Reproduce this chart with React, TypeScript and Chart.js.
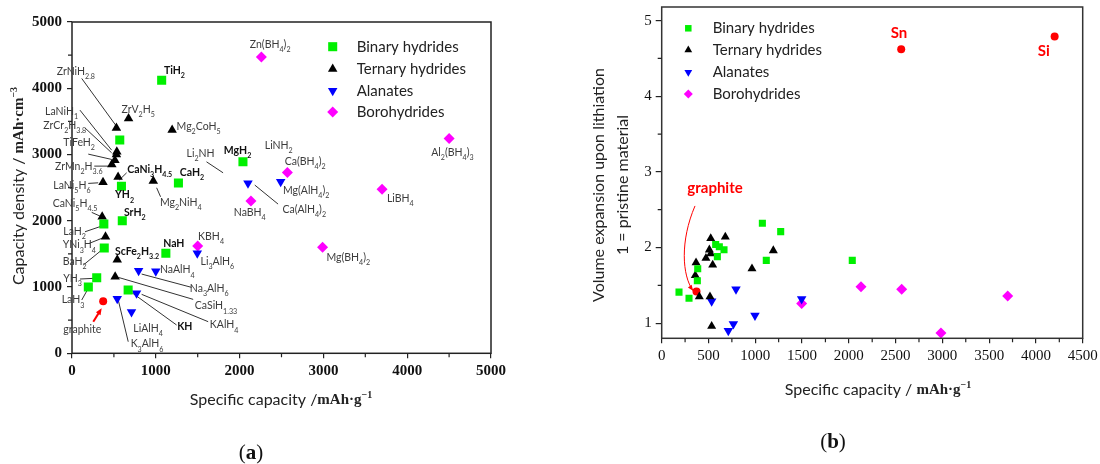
import React, { useEffect, useRef } from 'react';
import { Chart, registerables } from 'chart.js';
Chart.register(...registerables);

const SANS = "Lato, 'Open Sans', 'DejaVu Sans', sans-serif";
const SERIF = "'Liberation Serif', 'Times New Roman', serif";
const GREEN = '#00f000';
const BLACK = '#000000';
const BLUE = '#0000ff';
const MAGENTA = '#ff00ff';
const RED = '#ff0000';

const seriesNames = ['Binary hydrides', 'Ternary hydrides', 'Alanates', 'Borohydrides'];

// ---------- Panel (a): specific capacity (mAh/g) vs capacity density (mAh/cm3) ----------
// TiH2, ZrH2, MgH2, CaH2, YH2, SrH2, LaH2, BaH2, NaH, YH3, LaH3, KH
const binaryCapA = [1070, 570, 2040, 1270, 590, 600, 380, 385, 1120, 295, 195, 670];
const binaryDenA = [4120, 3220, 2890, 2570, 2520, 2000, 1950, 1590, 1510, 1140, 1000, 955];
// ZrNiH2.8, ZrV2H5, Mg2CoH5, LaNiH, ZrCr2H3.8, TiFeH2, ZrMn2H3.6, CaNi3H4.5, LaNi5H6, Mg2NiH4, CaNi5H4.5, YNi3H4, ScFe2H3.2, CaSiH1.33
const ternaryCapA = [530, 675, 1195, 535, 530, 512, 475, 550, 370, 970, 360, 400, 540, 515];
const ternaryDenA = [3400, 3545, 3370, 3040, 3000, 2915, 2850, 2660, 2580, 2600, 2060, 1760, 1410, 1155];
// Ca(AlH4)2, Mg(AlH4)2, Li3AlH6, NaAlH4, Na3AlH6, KAlH4, K3AlH6, LiAlH4
const alanateCapA = [2100, 2490, 1495, 1000, 795, 770, 540, 710];
const alanateDenA = [2565, 2590, 1510, 1240, 1245, 905, 825, 625];
// Zn(BH4)2, Al2(BH4)3, Ca(BH4)2, LiBH4, NaBH4, KBH4, Mg(BH4)2
const boroCapA = [2260, 4500, 2570, 3700, 2135, 1500, 2990];
const boroDenA = [4470, 3240, 2730, 2475, 2300, 1620, 1600];
// graphite
const refCapA = [372];
const refDenA = [785];

const ticksA = [0, 1000, 2000, 3000, 4000, 5000];
const minorTicksA = [500, 1500, 2500, 3500, 4500];

// annotation labels (text, x, y in data units, bold)
const labelsA: [string, number, number, number][] = [
  ['ZrNiH_{2.8}', -182, 4258, 0],
  ['TiH_2', 1097, 4273, 1],
  ['ZrV_2H_5', 592, 3685, 0],
  ['LaNiH_1', -322, 3655, 0],
  ['ZrCr_2H_{3.8}', -342, 3443, 0],
  ['TiFeH_2', -104, 3177, 0],
  ['ZrMn_2H_{3.6}', -203, 2814, 0],
  ['Mg_2CoH_5', 1248, 3428, 0],
  ['Li_2NH', 1367, 3017, 0],
  ['MgH_2', 1812, 3056, 1],
  ['CaNi_3H_{4.5}', 659, 2775, 1],
  ['CaH_2', 1287, 2724, 1],
  ['LaNi_5H_6', -223, 2528, 0],
  ['YH_2', 513, 2388, 1],
  ['Mg_2NiH_4', 1049, 2272, 0],
  ['NaBH_4', 1931, 2127, 0],
  ['CaNi_5H_{4.5}', -230, 2262, 0],
  ['SrH_2', 620, 2127, 1],
  ['Zn(BH_4)_2', 2122, 4665, 0],
  ['LiNH_2', 2300, 3131, 0],
  ['Ca(BH_4)_2', 2539, 2900, 0],
  ['Mg(AlH_4)_2', 2518, 2452, 0],
  ['Ca(AlH_4)_2', 2511, 2172, 0],
  ['LiBH_4', 3758, 2338, 0],
  ['Al_2(BH_4)_3', 4287, 3026, 0],
  ['LaH_2', -104, 1834, 0],
  ['YNi_3H_4', -111, 1633, 0],
  ['BaH_2', -111, 1382, 0],
  ['ScFe_2H_{3.2}', 513, 1532, 1],
  ['NaH', 1088, 1659, 1],
  ['KBH_4', 1505, 1759, 0],
  ['Li_3AlH_6', 1534, 1382, 0],
  ['NaAlH_4', 1049, 1256, 0],
  ['Na_3AlH_6', 1406, 980, 0],
  ['YH_3', -104, 1131, 0],
  ['LaH_3', -123, 804, 0],
  ['CaSiH_{1.33}', 1466, 713, 0],
  ['KAlH_4', 1645, 427, 0],
  ['KH', 1255, 401, 1],
  ['LiAlH_4', 731, 377, 0],
  ['K_3AlH_6', 700, 140, 0],
  ['graphite', -104, 351, 0],
  ['Mg(BH_4)_2', 3036, 1448, 0],
];

// leader lines (x1, y1, x2, y2 in data units)
const leadersA: [number, number, number, number][] = [
  [116, 4148, 521, 3443],
  [95, 3670, 473, 3066],
  [155, 3401, 473, 3026],
  [194, 3006, 473, 2926],
  [266, 2825, 433, 2825],
  [1605, 2890, 1803, 2724],
  [652, 2724, 564, 2615],
  [194, 2564, 313, 2573],
  [1010, 2498, 1057, 2362],
  [235, 2127, 334, 2071],
  [2181, 2539, 2459, 2252],
  [155, 1834, 354, 1920],
  [206, 1659, 373, 1744],
  [135, 1332, 354, 1558],
  [831, 1196, 1427, 995],
  [95, 1121, 254, 1131],
  [116, 804, 194, 980],
  [552, 1146, 1446, 814],
  [831, 890, 1625, 477],
  [671, 955, 1248, 427],
  [552, 804, 671, 175],
];
const graphiteArrowA = [254, 477, 354, 679];

// ---------- Panel (b): specific capacity vs volume expansion ----------
const binaryCapB = [185, 292, 381, 385, 577, 616, 666, 595, 1076, 1272, 1118, 2037];
const binaryVolB = [1.41, 1.33, 1.56, 1.72, 2.04, 2.01, 1.97, 1.88, 2.32, 2.21, 1.83, 1.83];
const ternaryCapB = [524, 680, 509, 524, 473, 545, 367, 359, 402, 516, 534, 965, 1193];
const ternaryVolB = [2.12, 2.14, 1.97, 1.92, 1.86, 1.77, 1.8, 1.63, 1.35, 1.35, 0.96, 1.72, 1.96];
const alanateCapB = [794, 534, 997, 766, 712, 1496];
const alanateVolB = [1.45, 1.29, 1.1, 0.99, 0.9, 1.32];
const boroCapB = [1496, 2130, 2565, 2985, 3698];
const boroVolB = [1.26, 1.48, 1.45, 0.87, 1.36];
const refNamesB = ['graphite', 'Sn', 'Si'];
const refCapB = [372, 2560, 4200];
const refVolB = [1.42, 4.62, 4.79];

const xTicksB = [0, 500, 1000, 1500, 2000, 2500, 3000, 3500, 4000, 4500];
const xMinorB = [250, 750, 1250, 1750, 2250, 2750, 3250, 3750, 4250];
const yTicksB = [1, 2, 3, 4, 5];
const yMinorB = [1.5, 2.5, 3.5, 4.5];

// red labels of panel (b): text, x, y (data units)
const redLabelsB: [string, number, number][] = [
  ['Sn', 2536, 4.84],
  ['Si', 4085, 4.6],
  ['graphite', 570, 2.78],
];
// curved arrow: start, control1, control2, end
const graphiteCurveB = [356, 2.55, 196, 2.09, 217, 1.63, 335, 1.43];

// ---------- helpers ----------
type Seg = { t: string; m: number };
function parseRich(s: string): Seg[] {
  const out: Seg[] = [];
  let buf = '';
  let i = 0;
  while (i < s.length) {
    const c = s[i];
    if (c === '_' || c === '^') {
      if (buf) { out.push({ t: buf, m: 0 }); buf = ''; }
      const m = c === '_' ? 1 : 2;
      if (s[i + 1] === '{') {
        const j = s.indexOf('}', i + 2);
        out.push({ t: s.slice(i + 2, j), m });
        i = j + 1;
      } else {
        out.push({ t: s[i + 1], m });
        i += 2;
      }
    } else {
      buf += c;
      i++;
    }
  }
  if (buf) out.push({ t: buf, m: 0 });
  return out;
}

function drawRich(ctx: CanvasRenderingContext2D, s: string, x: number, y: number, size: number, bold: boolean, color: string, align: string) {
  const segs = parseRich(s);
  const font = (m: number) => `${bold ? 'bold ' : ''}${m ? size * 0.68 : size}px ${SANS}`;
  let w = 0;
  segs.forEach((g) => { ctx.font = font(g.m); w += ctx.measureText(g.t).width; });
  let cx = align === 'center' ? x - w / 2 : x;
  ctx.fillStyle = color;
  ctx.textBaseline = 'middle';
  ctx.textAlign = 'left';
  segs.forEach((g) => {
    ctx.font = font(g.m);
    const dy = g.m === 1 ? size * 0.5 : g.m === 2 ? -size * 0.4 : 0;
    ctx.fillText(g.t, cx, y + dy);
    cx += ctx.measureText(g.t).width;
  });
}

type TSeg = { t: string; font: string; dy: number };
function drawSegs(ctx: CanvasRenderingContext2D, segs: TSeg[], x: number, y: number) {
  let w = 0;
  segs.forEach((g) => { ctx.font = g.font; w += ctx.measureText(g.t).width; });
  let cx = x - w / 2;
  ctx.textBaseline = 'middle';
  ctx.textAlign = 'left';
  segs.forEach((g) => {
    ctx.font = g.font;
    ctx.fillText(g.t, cx, y + g.dy);
    cx += ctx.measureText(g.t).width;
  });
}

function drawMarker(ctx: CanvasRenderingContext2D, style: string, x: number, y: number, r: number, color: string, rot: number) {
  ctx.beginPath();
  ctx.fillStyle = color;
  if (style === 'rect') {
    const h = r * Math.SQRT1_2;
    ctx.rect(x - h, y - h, 2 * h, 2 * h);
  } else if (style === 'rectRot') {
    ctx.moveTo(x, y - r); ctx.lineTo(x + r, y); ctx.lineTo(x, y + r); ctx.lineTo(x - r, y); ctx.closePath();
  } else if (style === 'triangle') {
    const s = rot ? -1 : 1;
    ctx.moveTo(x, y - s * r);
    ctx.lineTo(x + r * 0.866, y + s * r * 0.5);
    ctx.lineTo(x - r * 0.866, y + s * r * 0.5);
    ctx.closePath();
  } else {
    ctx.arc(x, y, r, 0, Math.PI * 2);
  }
  ctx.fill();
}

function arrowHead(ctx: CanvasRenderingContext2D, fx: number, fy: number, tx: number, ty: number, len: number, color: string) {
  const a = Math.atan2(ty - fy, tx - fx);
  ctx.beginPath();
  ctx.fillStyle = color;
  ctx.moveTo(tx, ty);
  ctx.lineTo(tx - len * Math.cos(a - 0.4), ty - len * Math.sin(a - 0.4));
  ctx.lineTo(tx - len * Math.cos(a + 0.4), ty - len * Math.sin(a + 0.4));
  ctx.closePath();
  ctx.fill();
}

function ds(label: string, xs: number[], ys: number[], style: string, color: string, r: number, rot = 0) {
  return {
    label,
    data: xs.map((x, i) => ({ x, y: ys[i] })),
    pointStyle: style,
    pointRadius: r,
    pointHoverRadius: r,
    pointRotation: rot,
    backgroundColor: color,
    borderColor: color,
    borderWidth: 0,
    pointBorderWidth: 0,
    showLine: false,
  };
}

const styles = [
  { style: 'rect', color: GREEN, rot: 0 },
  { style: 'triangle', color: BLACK, rot: 0 },
  { style: 'triangle', color: BLUE, rot: 180 },
  { style: 'rectRot', color: MAGENTA, rot: 0 },
];

function fitFix(size: number, horizontal: boolean) {
  return (s: any) => {
    if (horizontal) s.height = size; else s.width = size;
    s.paddingLeft = 0; s.paddingRight = 0; s.paddingTop = 0; s.paddingBottom = 0;
  };
}

function minorTicks(ctx: CanvasRenderingContext2D, chart: any, xs: number[], ys: number[], len: number) {
  const { chartArea: ca, scales } = chart;
  ctx.strokeStyle = '#222';
  ctx.lineWidth = 1.2;
  ctx.beginPath();
  xs.forEach((v) => { const px = scales.x.getPixelForValue(v); ctx.moveTo(px, ca.bottom); ctx.lineTo(px, ca.bottom + len); });
  ys.forEach((v) => { const py = scales.y.getPixelForValue(v); ctx.moveTo(ca.left, py); ctx.lineTo(ca.left - len, py); });
  ctx.stroke();
}

const plugA = {
  id: 'plugA',
  beforeDatasetsDraw(chart: any) {
    const { ctx, scales: { x, y } } = chart;
    ctx.save();
    ctx.strokeStyle = '#333';
    ctx.lineWidth = 1;
    ctx.beginPath();
    leadersA.forEach(([x1, y1, x2, y2]) => {
      ctx.moveTo(x.getPixelForValue(x1), y.getPixelForValue(y1));
      ctx.lineTo(x.getPixelForValue(x2), y.getPixelForValue(y2));
    });
    ctx.stroke();
    const [ax1, ay1, ax2, ay2] = graphiteArrowA;
    const p1x = x.getPixelForValue(ax1), p1y = y.getPixelForValue(ay1);
    const p2x = x.getPixelForValue(ax2), p2y = y.getPixelForValue(ay2);
    ctx.strokeStyle = RED;
    ctx.lineWidth = 2;
    ctx.beginPath();
    ctx.moveTo(p1x, p1y);
    ctx.lineTo(p1x + (p2x - p1x) * 0.75, p1y + (p2y - p1y) * 0.75);
    ctx.stroke();
    arrowHead(ctx, p1x, p1y, p2x, p2y, 7, RED);
    ctx.restore();
  },
  afterDatasetsDraw(chart: any) {
    const { ctx, chartArea: ca, scales: { x, y } } = chart;
    ctx.save();
    ctx.strokeStyle = '#222';
    ctx.lineWidth = 1.5;
    ctx.strokeRect(ca.left, ca.top, ca.right - ca.left, ca.bottom - ca.top);
    minorTicks(ctx, chart, minorTicksA, minorTicksA, 4);
    labelsA.forEach(([t, lx, ly, b]) => {
      drawRich(ctx, t, x.getPixelForValue(lx), y.getPixelForValue(ly), 10.5, !!b, b ? '#111' : '#3c3c3c', 'left');
    });
    // legend
    const rows = [46.7, 69, 90.7, 112];
    chart.data.datasets.slice(0, 4).forEach((d: any, i: number) => {
      const st = styles[i];
      drawMarker(ctx, st.style, 332.7, rows[i], st.style === 'rect' ? 6.4 : 5.5, st.color, st.rot);
      ctx.fillStyle = '#222';
      ctx.font = `15px ${SANS}`;
      ctx.textAlign = 'left';
      ctx.textBaseline = 'middle';
      ctx.fillText(d.label, 356.7, rows[i]);
    });
    // axis titles
    ctx.fillStyle = '#222';
    drawSegs(ctx, [
      { t: 'Specific capacity /', font: `16px ${SANS}`, dy: 0 },
      { t: 'mAh·g', font: `bold 15px ${SERIF}`, dy: 0 },
      { t: '−1', font: `bold 10px ${SERIF}`, dy: -5 },
    ], 281, 400);
    ctx.translate(19, 186);
    ctx.rotate(-Math.PI / 2);
    drawSegs(ctx, [
      { t: 'Capacity density / ', font: `16px ${SANS}`, dy: 0 },
      { t: 'mAh·cm', font: `bold 15px ${SERIF}`, dy: 0 },
      { t: '−3', font: `bold 10px ${SERIF}`, dy: -5 },
    ], 0, 0);
    ctx.restore();
  },
};

const plugB = {
  id: 'plugB',
  afterDatasetsDraw(chart: any) {
    const { ctx, chartArea: ca, scales: { x, y } } = chart;
    ctx.save();
    ctx.strokeStyle = '#333';
    ctx.lineWidth = 1.5;
    ctx.strokeRect(ca.left, ca.top, ca.right - ca.left, ca.bottom - ca.top);
    minorTicks(ctx, chart, xMinorB, yMinorB, 4);
    // red labels
    redLabelsB.forEach(([t, lx, ly]) => {
      ctx.fillStyle = RED;
      ctx.font = `bold 15px ${SANS}`;
      ctx.textAlign = 'center';
      ctx.textBaseline = 'middle';
      ctx.fillText(t, x.getPixelForValue(lx), y.getPixelForValue(ly));
    });
    // curved arrow to graphite
    const c = graphiteCurveB;
    const P = (i: number) => [x.getPixelForValue(c[i]), y.getPixelForValue(c[i + 1])];
    const [sx, sy] = P(0), [c1x, c1y] = P(2), [c2x, c2y] = P(4), [ex, ey] = P(6);
    ctx.strokeStyle = RED;
    ctx.lineWidth = 1;
    ctx.beginPath();
    ctx.moveTo(sx, sy);
    ctx.bezierCurveTo(c1x, c1y, c2x, c2y, ex, ey);
    ctx.stroke();
    arrowHead(ctx, c2x, c2y, ex, ey, 6, RED);
    // legend
    const rows = [28.3, 50, 72.3, 94];
    chart.data.datasets.slice(0, 4).forEach((d: any, i: number) => {
      const st = styles[i];
      drawMarker(ctx, st.style, 138.3, rows[i], st.style === 'rect' ? 4.6 : 4.5, st.color, st.rot);
      ctx.fillStyle = '#222';
      ctx.font = `15px ${SANS}`;
      ctx.textAlign = 'left';
      ctx.textBaseline = 'middle';
      ctx.fillText(d.label, 162.7, rows[i]);
    });
    // axis titles
    ctx.fillStyle = '#222';
    drawSegs(ctx, [
      { t: 'Specific capacity / ', font: `16px ${SANS}`, dy: 0 },
      { t: 'mAh·g', font: `bold 15px ${SERIF}`, dy: 0 },
      { t: '−1', font: `bold 10px ${SERIF}`, dy: -5 },
    ], 328, 390);
    ctx.save();
    ctx.translate(49, 185);
    ctx.rotate(-Math.PI / 2);
    drawSegs(ctx, [{ t: 'Volume expansion upon lithiation', font: `16px ${SANS}`, dy: 0 }], 0, 0);
    ctx.restore();
    ctx.save();
    ctx.translate(73, 185);
    ctx.rotate(-Math.PI / 2);
    drawSegs(ctx, [{ t: '1 = pristine material', font: `16px ${SANS}`, dy: 0 }], 0, 0);
    ctx.restore();
    ctx.restore();
  },
};

function scaleOpts(min: number, max: number, ticks: number[], horizontal: boolean, size: number, bold: boolean, tickLen: number, pad: number) {
  return {
    type: 'linear',
    min,
    max,
    afterBuildTicks: (s: any) => { s.ticks = ticks.map((v) => ({ value: v })); },
    afterFit: fitFix(size, horizontal),
    grid: { display: true, drawOnChartArea: false, drawTicks: true, tickLength: tickLen, color: '#222', lineWidth: 1.2 },
    border: { display: false },
    ticks: {
      autoSkip: false,
      maxRotation: 0,
      padding: pad,
      color: '#111',
      callback: (v: number) => String(v),
      font: { family: SERIF, size: 15, weight: bold ? 'bold' : 'normal' },
    },
  };
}

export default function App() {
  const refA = useRef<HTMLCanvasElement>(null);
  const refB = useRef<HTMLCanvasElement>(null);
  useEffect(() => {
    document.body.style.margin = '0';
    const chartA = new Chart(refA.current as HTMLCanvasElement, {
      type: 'scatter',
      data: {
        datasets: [
          ds(seriesNames[0], binaryCapA, binaryDenA, 'rect', GREEN, 6.4),
          ds(seriesNames[1], ternaryCapA, ternaryDenA, 'triangle', BLACK, 5.5),
          ds(seriesNames[2], alanateCapA, alanateDenA, 'triangle', BLUE, 5.5, 180),
          ds(seriesNames[3], boroCapA, boroDenA, 'rectRot', MAGENTA, 5.5),
          ds('graphite', refCapA, refDenA, 'circle', RED, 4),
        ] as any,
      },
      options: {
        responsive: false,
        animation: false,
        devicePixelRatio: 1,
        layout: { padding: { left: 0, top: 22, right: 59, bottom: 80.7 } },
        plugins: { legend: { display: false }, tooltip: { enabled: false } },
        scales: {
          x: scaleOpts(0, 5000, ticksA, true, 30, true, 5, 4) as any,
          y: scaleOpts(0, 5000, ticksA, false, 72, true, 5, 5) as any,
        },
      },
      plugins: [plugA as any],
    });
    const chartB = new Chart(refB.current as HTMLCanvasElement, {
      type: 'scatter',
      data: {
        datasets: [
          ds(seriesNames[0], binaryCapB, binaryVolB, 'rect', GREEN, 5),
          ds(seriesNames[1], ternaryCapB, ternaryVolB, 'triangle', BLACK, 5.2),
          ds(seriesNames[2], alanateCapB, alanateVolB, 'triangle', BLUE, 5.5, 180),
          ds(seriesNames[3], boroCapB, boroVolB, 'rectRot', MAGENTA, 5.5),
          ds(refNamesB.join(', '), refCapB, refVolB, 'circle', RED, 4),
        ] as any,
      },
      options: {
        responsive: false,
        animation: false,
        devicePixelRatio: 1,
        layout: { padding: { left: 71.7, top: 7, right: 17.3, bottom: 95.7 } },
        plugins: { legend: { display: false }, tooltip: { enabled: false } },
        scales: {
          x: scaleOpts(0, 4500, xTicksB, true, 30, false, 5, 4) as any,
          y: scaleOpts(0.8, 5.18, yTicksB, false, 40, false, 6, 4) as any,
        },
      },
      plugins: [plugB as any],
    });
    return () => { chartA.destroy(); chartB.destroy(); };
  }, []);

  const capStyle: React.CSSProperties = {
    position: 'absolute', width: 60, textAlign: 'center', fontFamily: SERIF, fontSize: 21, lineHeight: '24px', color: '#111',
  };
  return (
    <div style={{ position: 'absolute', left: 0, top: 0, width: 1100, height: 464, background: '#fff', overflow: 'hidden' }}>
      <canvas ref={refA} width={550} height={464} style={{ position: 'absolute', left: 0, top: 0, width: 550, height: 464 }} />
      <canvas ref={refB} width={550} height={464} style={{ position: 'absolute', left: 550, top: 0, width: 550, height: 464 }} />
      <div style={{ ...capStyle, left: 221, top: 440 }}>(<b>a</b>)</div>
      <div style={{ ...capStyle, left: 803, top: 429 }}>(<b>b</b>)</div>
    </div>
  );
}
